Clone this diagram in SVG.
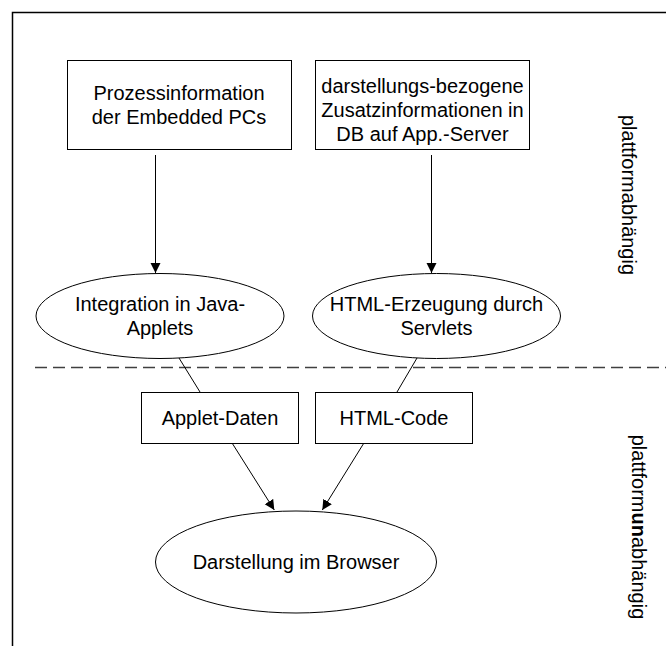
<svg xmlns="http://www.w3.org/2000/svg" width="666" height="646" viewBox="0 0 666 646">
  <style>
    .box { fill: #fff; stroke: #000; stroke-width: 1; }
    .lbl { font-family: "Liberation Sans", Arial, sans-serif; font-size: 20px; fill: #000; text-anchor: middle; }
    .edge { fill: none; stroke: #000; stroke-width: 1; }
    .frame { fill: none; stroke: #000; stroke-width: 1.5; }
    .sep { fill: none; stroke: #404040; stroke-width: 1.5; stroke-dasharray: 12 6; }
  </style>
  <defs>
    <marker id="arrow" markerUnits="userSpaceOnUse" markerWidth="12" markerHeight="12" refX="10" refY="5" orient="auto">
      <path d="M0,0 L10,5 L0,10 Z" fill="#000"/>
    </marker>
  </defs>
  <rect width="666" height="646" fill="#fff"/>

  <g id="frame">
    <path class="frame" d="M12.5,646 V12.5 H666"/>
    <path class="sep" d="M35,367.5 H666"/>
  </g>

  <g id="connectors">
    <path class="edge" d="M155.5,155 V273" marker-end="url(#arrow)"/>
    <path class="edge" d="M431.5,155 V273" marker-end="url(#arrow)"/>
    <path class="edge" d="M179,358 L200,392"/>
    <path class="edge" d="M417,358 L397,392"/>
    <path class="edge" d="M232.7,444 L274.3,510" marker-end="url(#arrow)"/>
    <path class="edge" d="M363.3,444 L322.3,510" marker-end="url(#arrow)"/>
  </g>

  <g id="n-prozess">
    <rect class="box" x="67.5" y="60.5" width="224" height="89"/>
    <text class="lbl" x="179" y="100">Prozessinformation</text>
    <text class="lbl" x="179" y="124">der Embedded PCs</text>
  </g>

  <g id="n-darstellungs">
    <rect class="box" x="315.5" y="60.5" width="214" height="89"/>
    <text class="lbl" x="422.5" y="93">darstellungs-bezogene</text>
    <text class="lbl" x="422.5" y="117">Zusatzinformationen in</text>
    <text class="lbl" x="422.5" y="141">DB auf App.-Server</text>
  </g>

  <g id="n-integration">
    <ellipse class="box" cx="160" cy="316" rx="124" ry="42.5"/>
    <text class="lbl" x="160" y="311">Integration in Java-</text>
    <text class="lbl" x="160" y="335">Applets</text>
  </g>

  <g id="n-html-erzeugung">
    <ellipse class="box" cx="436.5" cy="316" rx="124" ry="42.5"/>
    <text class="lbl" x="436.5" y="311">HTML-Erzeugung durch</text>
    <text class="lbl" x="436.5" y="335">Servlets</text>
  </g>

  <g id="n-applet-daten">
    <rect class="box" x="141.5" y="392.5" width="157" height="51"/>
    <text class="lbl" x="220" y="425">Applet-Daten</text>
  </g>

  <g id="n-html-code">
    <rect class="box" x="315.5" y="392.5" width="157" height="51"/>
    <text class="lbl" x="394" y="425">HTML-Code</text>
  </g>

  <g id="n-browser">
    <ellipse class="box" cx="296" cy="562" rx="140.5" ry="51"/>
    <text class="lbl" x="296" y="569">Darstellung im Browser</text>
  </g>

  <g id="side-labels">
    <text class="lbl" transform="translate(621.5,195) rotate(90)">plattformabhängig</text>
    <text class="lbl" transform="translate(631.5,527) rotate(90)">plattform<tspan font-weight="bold">un</tspan>abhängig</text>
  </g>
</svg>
